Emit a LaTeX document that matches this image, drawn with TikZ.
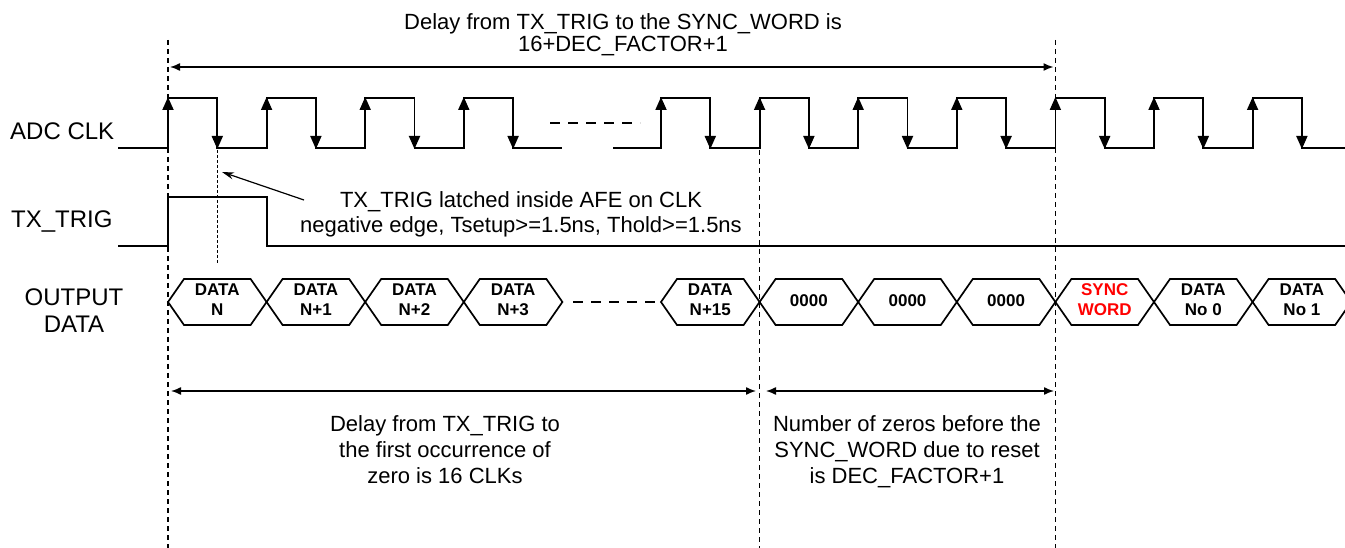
\documentclass[tikz,border=0pt]{standalone}
\usepackage{fontspec}
\setmainfont{Liberation Sans}
\usetikzlibrary{arrows.meta}
\definecolor{syncred}{RGB}{255,0,0}
\begin{document}
\lineskiplimit=-100pt
\begin{tikzpicture}[x=1pt,y=-1pt,
  wave/.style={line width=1.8pt, line join=miter},
  clkedge/.style={line width=1.8pt, -{Triangle[width=11pt,length=13pt]}},
  guide/.style={line width=1.2pt, dash pattern=on 5pt off 4pt},
  fineguide/.style={line width=1.1pt, dash pattern=on 3pt off 2pt},
  gapdash/.style={line width=1.2pt, dash pattern=on 10pt off 8pt},
  bus/.style={line width=1.7pt, line join=miter},
  dim/.style={line width=1.4pt, {Latex[length=10pt,width=8pt]}-{Latex[length=10pt,width=8pt]}},
  note/.style={line width=1.2pt, -{Stealth[length=12pt,width=7pt]}},
  lbl/.style={font=\fontsize{24}{28}\selectfont, inner sep=0pt, align=center},
  txt/.style={font=\fontsize{22}{25.7}\selectfont, align=center, inner sep=0pt},
  toptxt/.style={font=\fontsize{22}{22}\selectfont, align=center, inner sep=0pt},
  btxt/.style={font=\bfseries\fontsize{17}{20}\selectfont, align=center, inner sep=0pt}]
\useasboundingbox (0,0) rectangle (1345,548);
\clip (0,0) rectangle (1345,548);

% ---- signal labels
\node[lbl, anchor=base west] (clklbl) at (10,140) {ADC CLK};
\node[lbl, anchor=base west] (triglbl) at (11,228) {TX\_TRIG};
\node[lbl] (outlbl) at (74,313.4) {\strut OUTPUT\\\strut DATA};

% ---- ADC CLK waveform
\draw[wave] (118,148)
  \foreach \k in {0,...,3}{ -- ({168+\k*98.6},148) -- ({168+\k*98.6},98)
     -- ({217.3+\k*98.6},98) -- ({217.3+\k*98.6},148)} -- (562,148);
\draw[wave] (613,148)
  \foreach \k in {5,...,11}{ -- ({168+\k*98.6},148) -- ({168+\k*98.6},98)
     -- ({217.3+\k*98.6},98) -- ({217.3+\k*98.6},148)} -- (1345,148);
\foreach \k in {0,1,2,3,5,6,7,8,9,10,11}{
  \draw[clkedge] ({168+\k*98.6},148) -- ({168+\k*98.6},97);
  \draw[clkedge] ({217.3+\k*98.6},98) -- ({217.3+\k*98.6},149);
}
\draw[gapdash] (550,123) -- (640,123);

% ---- TX_TRIG waveform
\draw[wave] (118,246) -- (168,246) -- (168,197) -- (267,197) -- (267,246) -- (1345,246);

% ---- guide lines
\draw[guide] (168,40) -- (168,548);
\draw[guide] (1055.4,40) -- (1055.4,548);
\draw[guide] (759.6,150) -- (759.6,548);
\draw[fineguide] (217.3,150) -- (217.3,264);

% ---- output data bus
\foreach \k/\lab/\col in {0/{\strut DATA\\\strut N}/black,
  1/{\strut DATA\\\strut N+1}/black,
  2/{\strut DATA\\\strut N+2}/black,
  3/{\strut DATA\\\strut N+3}/black,
  5/{\strut DATA\\\strut N+15}/black,
  6/{\strut 0000}/black,
  7/{\strut 0000}/black,
  8/{\strut 0000}/black,
  9/{\strut SYNC\\\strut WORD}/syncred,
  10/{\strut DATA\\\strut No 0}/black,
  11/{\strut DATA\\\strut No 1}/black}{
  \pgfmathsetmacro\a{168+\k*98.6}
  \pgfmathsetmacro\b{\a+98.6}
  \draw[bus] (\a,302) -- ({\a+16},279) -- ({\b-16},279) -- (\b,302)
     -- ({\b-16},325) -- ({\a+16},325) -- cycle;
  \node[btxt, text=\col] (d\k) at ({(\a+\b)/2},302) {\lab};
}
\draw[gapdash] (573,302) -- (655,302);

% ---- annotation
\node[txt] (latch) at (521,214.8) {\strut TX\_TRIG latched inside AFE on CLK\\\strut negative edge, Tsetup>=1.5ns, Thold>=1.5ns};
\coordinate (latchfrom) at (304,200);
\coordinate (latchtip) at (222,172);
\draw[note] (latchfrom) -- (latchtip);

% ---- dimension arrows
\coordinate (ta) at (170,67);
\coordinate (tb) at (1053.5,67);
\draw[dim] (ta) -- (tb);
\node[toptxt] (toplbl) at (623,36.1) {\strut Delay from TX\_TRIG to the SYNC\_WORD is\\\strut 16+DEC\_FACTOR+1};

\coordinate (la) at (171,391);
\coordinate (lb) at (756,391);
\draw[dim] (la) -- (lb);
\node[txt] (leftlbl) at (445,452.3) {\strut Delay from TX\_TRIG to\\\strut the first occurrence of\\\strut zero is 16 CLKs};

\coordinate (ra) at (766,391);
\coordinate (rb) at (1054,391);
\draw[dim] (ra) -- (rb);
\node[txt] (rightlbl) at (907,452.3) {\strut Number of zeros before the\\\strut SYNC\_WORD due to reset\\\strut is DEC\_FACTOR+1};
\end{tikzpicture}
\end{document}
